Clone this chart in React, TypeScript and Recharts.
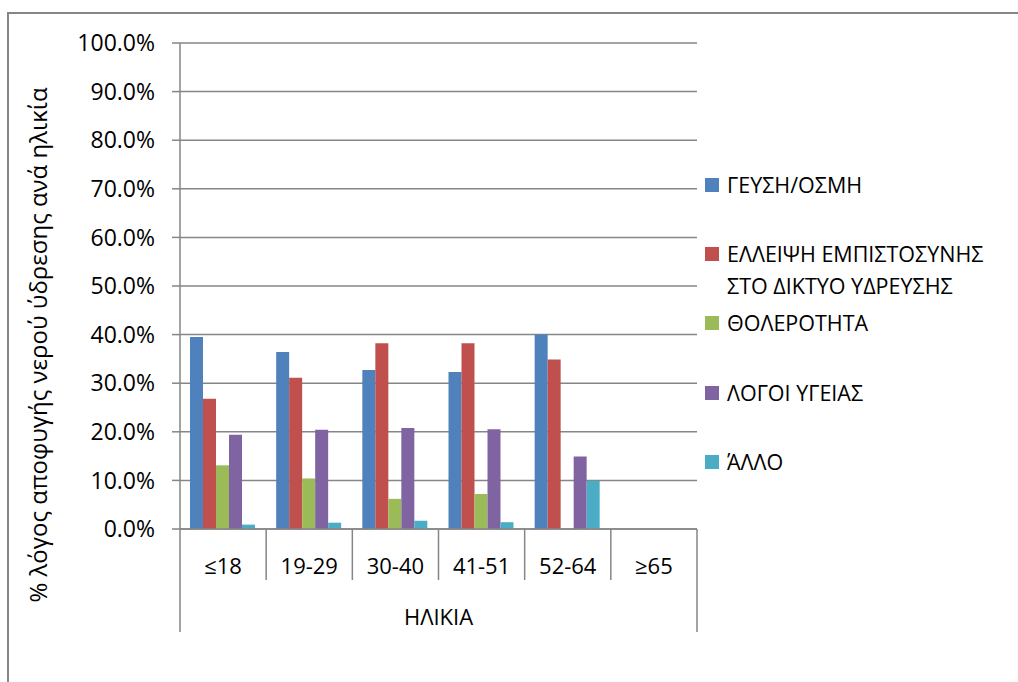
import React from 'react';
import { BarChart, Bar, XAxis, YAxis, CartesianGrid } from 'recharts';

const categories = ['≤18', '19-29', '30-40', '41-51', '52-64', '≥65'];
const geusiOsmi = [39.5, 36.4, 32.7, 32.3, 40.0, 0];
const elleipsi = [26.8, 31.1, 38.2, 38.2, 34.9, 0];
const tholerotita = [13.1, 10.4, 6.2, 7.2, 0, 0];
const logoiYgeias = [19.4, 20.4, 20.8, 20.5, 14.9, 0];
const allo = [0.9, 1.3, 1.7, 1.4, 9.9, 0];
const yTicks = [0, 10, 20, 30, 40, 50, 60, 70, 80, 90, 100];

const seriesNames = ['ΓΕΥΣΗ/ΟΣΜΗ', 'ΕΛΛΕΙΨΗ ΕΜΠΙΣΤΟΣΥΝΗΣ\nΣΤΟ ΔΙΚΤΥΟ ΥΔΡΕΥΣΗΣ', 'ΘΟΛΕΡΟΤΗΤΑ', 'ΛΟΓΟΙ ΥΓΕΙΑΣ', 'ΆΛΛΟ'];
const seriesColors = ['#4F81BD', '#C0504D', '#9BBB59', '#8064A2', '#4BACC6'];
const seriesValues = [geusiOsmi, elleipsi, tholerotita, logoiYgeias, allo];
const xTitle = 'ΗΛΙΚΙΑ';
const yTitle = '% λόγος αποφυγής νερού ύδρεσης ανά ηλικία';

const data = categories.map((c, i) => {
  const row: any = { cat: c };
  seriesValues.forEach((vals, s) => { row['s' + s] = vals[i]; });
  return row;
});

const W = 1018, H = 682;
const M_TOP = 43, M_RIGHT = 321, Y_W = 180, X_H = 153;
const PLOT_L = Y_W, PLOT_R = W - M_RIGHT, AXIS_Y = H - X_H;
const BAND = (PLOT_R - PLOT_L) / categories.length;
const FONT = '"Open Sans", Lato, sans-serif';
const GRAY = '#868686';

const XTick = (props: any) => {
  const { x, payload, index } = props;
  const left = x - BAND / 2;
  const right = x + BAND / 2;
  const last = index === categories.length - 1;
  return (
    <g>
      <line x1={left} y1={AXIS_Y} x2={left} y2={index === 0 ? 632 : 580} stroke={GRAY} strokeWidth={1.5} />
      {last && <line x1={right} y1={AXIS_Y} x2={right} y2={632} stroke={GRAY} strokeWidth={1.5} />}
      <text x={x} y={565} textAnchor="middle" dominantBaseline="central" fontFamily={FONT} fontSize={22} fill="#000">
        {payload.value}
      </text>
    </g>
  );
};

export default function App() {
  return (
    <div style={{ position: 'absolute', left: 0, top: 0, width: W, height: H, background: '#fff', overflow: 'hidden' }}>
      <div style={{ position: 'absolute', left: 7, top: 12, width: W, height: H, borderTop: `2px solid ${GRAY}`, borderLeft: `2px solid ${GRAY}` }} />
      <div style={{ position: 'absolute', left: 0, top: 0 }}>
        <BarChart width={W} height={H} data={data} margin={{ top: M_TOP, right: M_RIGHT, bottom: 0, left: 0 }} barCategoryGap={10} barGap={0}>
          <CartesianGrid vertical={false} stroke={GRAY} strokeWidth={1.5} />
          <XAxis
            dataKey="cat"
            height={X_H}
            interval={0}
            tickLine={false}
            axisLine={{ stroke: GRAY, strokeWidth: 1.5 }}
            tick={<XTick />}
            label={{
              content: () => (
                <text x={(PLOT_L + PLOT_R) / 2} y={616} textAnchor="middle" dominantBaseline="central" fontFamily={FONT} fontSize={22} fill="#000">
                  {xTitle}
                </text>
              ),
            }}
          />
          <YAxis
            width={Y_W}
            domain={[0, 100]}
            ticks={yTicks}
            interval={0}
            tickFormatter={(v: number) => v.toFixed(1) + '%'}
            tickSize={8}
            tickMargin={17}
            tickLine={{ stroke: GRAY, strokeWidth: 1.5 }}
            axisLine={{ stroke: GRAY, strokeWidth: 1.5 }}
            tick={{ fontFamily: FONT, fontSize: 23, fill: '#000' }}
            label={{
              content: () => (
                <text x={37} y={345} transform="rotate(-90 37 345)" textAnchor="middle" dominantBaseline="central" fontFamily={FONT} fontSize={24} fill="#000">
                  {yTitle}
                </text>
              ),
            }}
          />
          {seriesNames.map((n, s) => (
            <Bar key={n} dataKey={'s' + s} name={n.replace('\n', ' ')} fill={seriesColors[s]} isAnimationActive={false} />
          ))}
        </BarChart>
      </div>
      {seriesNames.map((n, s) => (
        <div key={n} style={{ position: 'absolute', left: 705, top: 185 + s * 69.2 - 16, display: 'flex', alignItems: 'flex-start', fontFamily: FONT, fontSize: 21.5, lineHeight: '32px', color: '#000', width: 313 }}>
          <div style={{ width: 14, height: 14, background: seriesColors[s], marginTop: 9, marginRight: 8, flex: 'none' }} />
          <div style={{ whiteSpace: 'pre' }}>{n}</div>
        </div>
      ))}
    </div>
  );
}
